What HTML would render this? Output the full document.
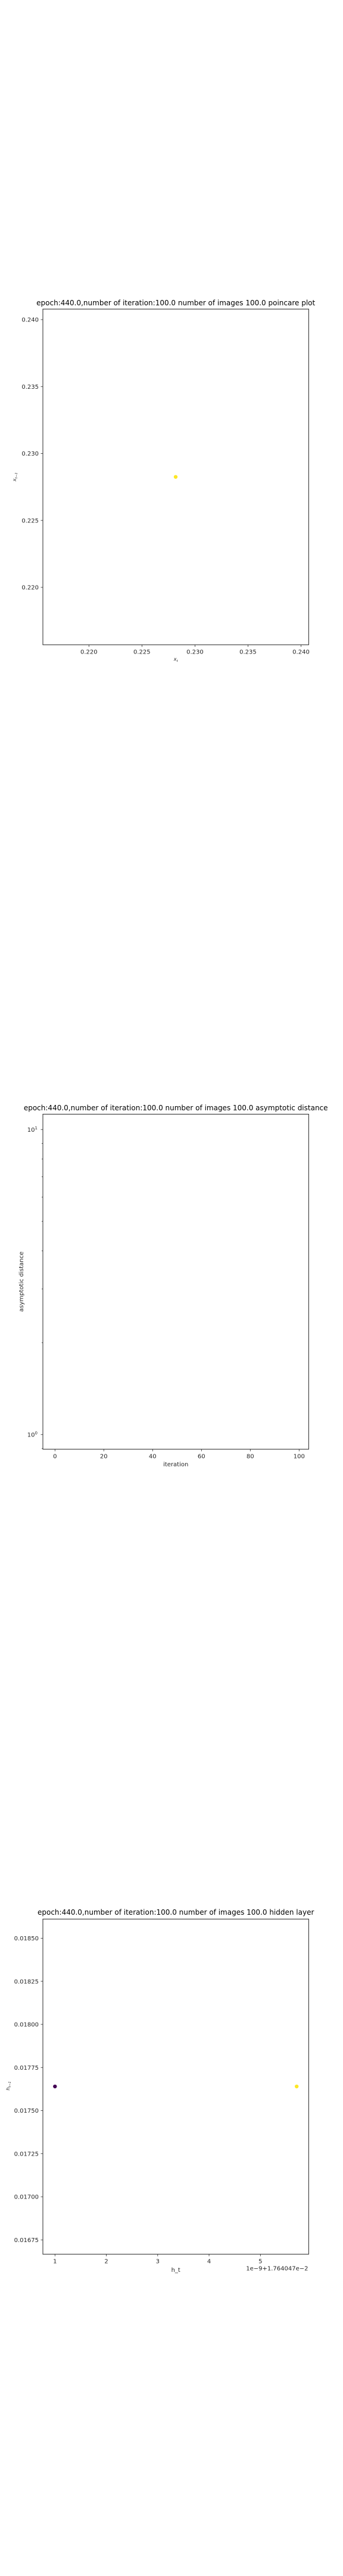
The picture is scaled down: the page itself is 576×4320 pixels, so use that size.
<!DOCTYPE html>
<html><head><meta charset="utf-8"><style>
html,body{margin:0;padding:0;background:#fff;}
svg{display:block;font-family:"DejaVu Sans","Liberation Sans",sans-serif;}
</style></head><body>
<svg id="fig" width="576" height="4320" viewBox="0 0 576 4320" xmlns="http://www.w3.org/2000/svg">
<rect x="0" y="0" width="576" height="4320" fill="#fff"/>
</svg>
<script>
// ---- Chart 1: poincare plot ----
const p1XTicks = [0.220, 0.225, 0.230, 0.235, 0.240];
const p1XTickLabels = ["0.220", "0.225", "0.230", "0.235", "0.240"];
const p1YTicks = [0.220, 0.225, 0.230, 0.235, 0.240];
const p1YTickLabels = ["0.220", "0.225", "0.230", "0.235", "0.240"];
const p1X = [0.22818];
const p1Y = [0.22825];
const p1Colors = ["#fde725"];
// ---- Chart 2: asymptotic distance (log) ----
const p2XTicks = [0, 20, 40, 60, 80, 100];
const p2XTickLabels = ["0", "20", "40", "60", "80", "100"];
const p2YMajor = [1, 10];
const p2YMinor = [0.9, 2, 3, 4, 5, 6, 7, 8, 9];
const p2X = [];
const p2Y = [];
// ---- Chart 3: hidden layer ----
const p3XTicks = [1, 2, 3, 4, 5];
const p3XTickLabels = ["1", "2", "3", "4", "5"];
const p3YTicks = [0.01675, 0.01700, 0.01725, 0.01750, 0.01775, 0.01800, 0.01825, 0.01850];
const p3YTickLabels = ["0.01675", "0.01700", "0.01725", "0.01750", "0.01775", "0.01800", "0.01825", "0.01850"];
const p3X = [1, 5.706];
const p3Y = [0.017640, 0.017640];
const p3Colors = ["#440154", "#fde725"];

const NS = "http://www.w3.org/2000/svg";
const svg = document.getElementById("fig");
function mk(tag, attrs, parent, text) {
  const e = document.createElementNS(NS, tag);
  for (const k in attrs) e.setAttribute(k, attrs[k]);
  if (text !== undefined) e.textContent = text;
  (parent || svg).appendChild(e);
  return e;
}
const L = 72, R = 518.4;

function linScale(d0, d1, r0, r1) { return v => r0 + (v - d0) / (d1 - d0) * (r1 - r0); }
function logScale(d0, d1, r0, r1) { return v => r0 + (Math.log10(v) - Math.log10(d0)) / (Math.log10(d1) - Math.log10(d0)) * (r1 - r0); }

function frame(g, T, B) {
  const f = mk("rect", {x: L, y: T, width: R - L, height: B - T, fill: "none", stroke: "#262626", "stroke-width": 1}, g);
  
  
}
function xTicks(g, ticks, labels, sx, B) {
  ticks.forEach((t, i) => {
    const x = sx(t);
    const ln = mk("line", {x1: x, y1: B, x2: x, y2: B + 3.5, stroke: "#262626", "stroke-width": 0.8}, g);
    
    
    const tx = mk("text", {x: x, y: B + 15, "font-size": 10, "text-anchor": "middle", fill: "#262626"}, g, labels[i]);
    
    
  });
}
function yTicks(g, ticks, labels, sy, len) {
  ticks.forEach((t, i) => {
    const y = sy(t);
    const ln = mk("line", {x1: L - len, y1: y, x2: L, y2: y, stroke: "#262626", "stroke-width": 0.8}, g);
    
    
    if (labels && labels[i] !== null) {
      const tx = mk("text", {x: L - 7, y: y + 3.6, "font-size": 10, "text-anchor": "end", fill: "#262626"}, g, labels[i]);
      
      
    }
  });
}
function title(g, y, text) {
  const t = mk("text", {x: (L + R) / 2, y: y, "font-size": 12, "text-anchor": "middle", fill: "#000"}, g, text);
  
  
}
function points(g, xs, ys, cols, sx, sy) {
  xs.forEach((v, i) => {
    const c = mk("circle", {cx: sx(v), cy: sy(ys[i]), r: 3.2, fill: cols[i]}, g);
    
    
  });
}

// Chart 1
{
  const T = 518.3, B = 1081.3;
  const g = mk("g", {});
  
  
  const sx = linScale(0.215660, 0.240724, L, R);
  const sy = linScale(0.215711, 0.240788, B, T);
  title(g, 512, "epoch:440.0,number of iteration:100.0 number of images 100.0 poincare plot");
  points(g, p1X, p1Y, p1Colors, sx, sy);
  frame(g, T, B);
  xTicks(g, p1XTicks, p1XTickLabels, sx, B);
  yTicks(g, p1YTicks, p1YTickLabels, sy, 3.5);
  const xl = mk("text", {x: (L + R) / 2, y: 1108, "font-size": 8, "text-anchor": "middle", "font-style": "italic", fill: "#262626"}, g);
  
  
  mk("tspan", {}, xl, "x");
  mk("tspan", {"font-size": 5.5, dy: 2}, xl, "t");
  const yl = mk("text", {x: 0, y: 0, "font-size": 8, "text-anchor": "middle", "font-style": "italic", fill: "#262626", transform: "translate(27," + ((T + B) / 2) + ") rotate(-90)"}, g);
  
  
  mk("tspan", {}, yl, "x");
  mk("tspan", {"font-size": 5.5, dy: 2}, yl, "t\u22121");
}

// Chart 2
{
  const T = 1868.5, B = 2430.3;
  const g = mk("g", {});
  
  
  const sx = linScale(0, 100, 92.3, 502.3);
  const sy = logScale(1, 10, 2405.8, 1894.2);
  title(g, 1862, "epoch:440.0,number of iteration:100.0  number of images 100.0 asymptotic distance");
  frame(g, T, B);
  xTicks(g, p2XTicks, p2XTickLabels, sx, B);
  yTicks(g, p2YMinor, null, sy, 2);
  p2YMajor.forEach(v => {
    const y = sy(v);
    const ln = mk("line", {x1: L - 3.5, y1: y, x2: L, y2: y, stroke: "#262626", "stroke-width": 0.8}, g);
    
    
    const tx = mk("text", {x: L - 9, y: y + 3.6, "font-size": 10, "text-anchor": "end", fill: "#262626"}, g);
    
    
    mk("tspan", {}, tx, "10");
    mk("tspan", {"font-size": 7, dy: -4}, tx, String(Math.round(Math.log10(v))));
  });
  const xl = mk("text", {x: (L + R) / 2, y: 2459, "font-size": 10, "text-anchor": "middle", fill: "#262626"}, g, "iteration");
  
  
  const yl = mk("text", {x: 0, y: 0, "font-size": 10, "text-anchor": "middle", fill: "#262626", transform: "translate(39," + ((T + B) / 2) + ") rotate(-90)"}, g, "asymptotic distance");
  
  
}

// Chart 3
{
  const T = 3218.3, B = 3780.3;
  const g = mk("g", {});
  
  
  const sx = linScale(1, 5, 92.3, 437.3);
  const sy = linScale(0.01850, 0.01675, 3250.4, 3756.3);
  title(g, 3211, "epoch:440.0,number of iteration:100.0  number of images 100.0 hidden layer");
  points(g, p3X, p3Y, p3Colors, sx, sy);
  frame(g, T, B);
  xTicks(g, p3XTicks, p3XTickLabels, sx, B);
  yTicks(g, p3YTicks, p3YTickLabels, sy, 3.5);
  const off = mk("text", {x: 517.5, y: 3807.5, "font-size": 10, "text-anchor": "end", fill: "#262626"}, g, "1e\u22129+1.764047e\u22122");
  
  
  const xl = mk("text", {x: (L + R) / 2, y: 3810, "font-size": 10, "text-anchor": "middle", fill: "#262626"}, g, "h_t");
  
  
  const yl = mk("text", {x: 0, y: 0, "font-size": 8, "text-anchor": "middle", "font-style": "italic", fill: "#262626", transform: "translate(16," + 3498 + ") rotate(-90)"}, g);
  
  
  mk("tspan", {}, yl, "h");
  mk("tspan", {"font-size": 5.5, dy: 2}, yl, "t\u22121");
}
</script>
</body></html>
